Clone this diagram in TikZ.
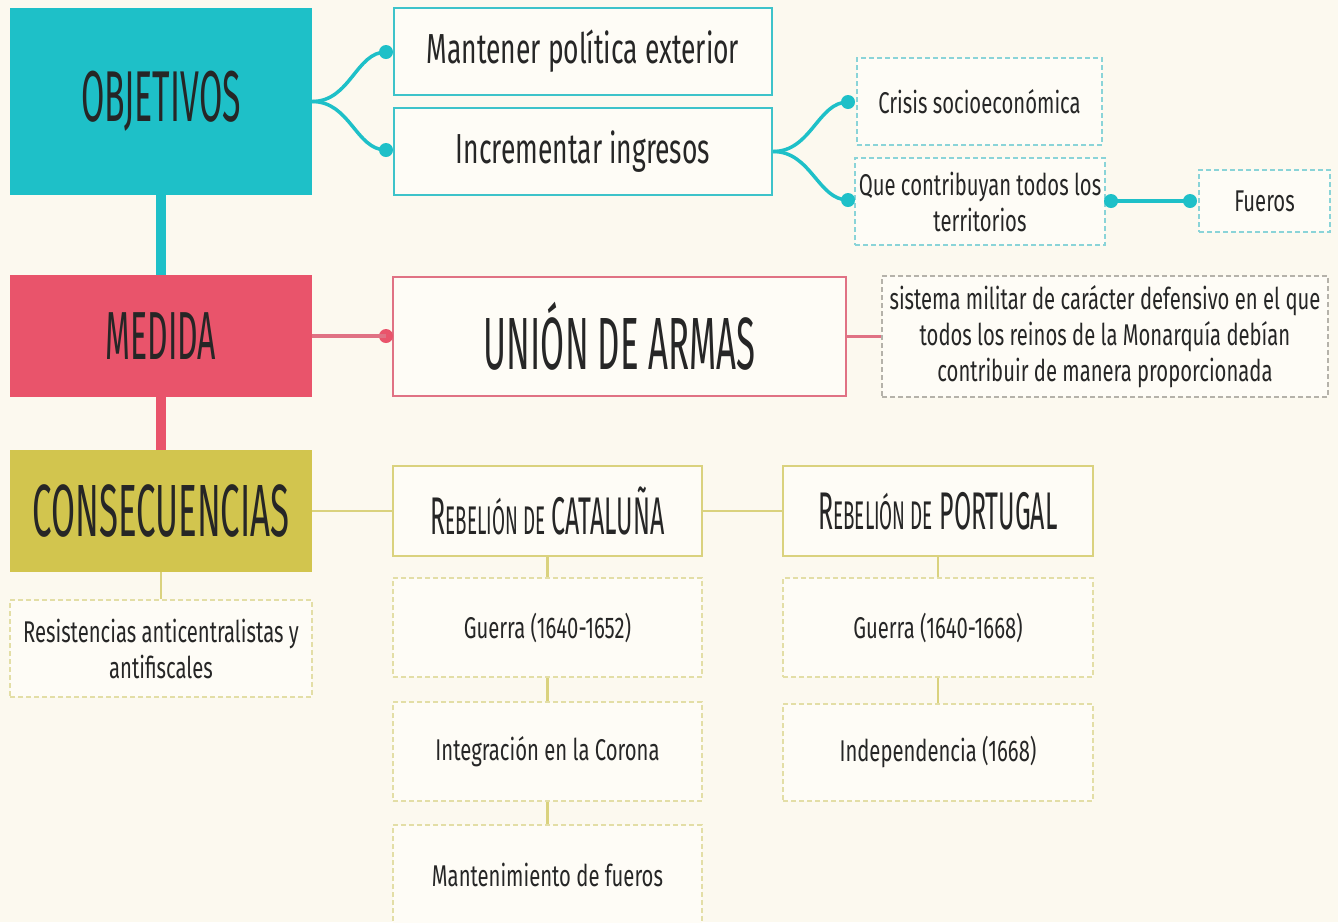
\documentclass[tikz,border=0pt]{standalone}
\usepackage{fontspec}
\setmainfont{Fira Sans}
\newfontfamily\hfont[FakeStretch=0.47]{Fira Sans}
\newfontfamily\bfont[FakeStretch=0.63]{Fira Sans}
\newfontfamily\sfont[FakeStretch=0.675]{Fira Sans}
\definecolor{bgc}{HTML}{FCF9EF}
\definecolor{boxin}{HTML}{FEFCF6}
\definecolor{tealc}{HTML}{1EC0C8}
\definecolor{teall}{HTML}{3DC3CA}
\definecolor{teald}{HTML}{8AD4D8}
\definecolor{redc}{HTML}{E9546B}
\definecolor{redl}{HTML}{E07284}
\definecolor{olivec}{HTML}{D2C54E}
\definecolor{olivel}{HTML}{DAD27E}
\definecolor{olived}{HTML}{E3DEA6}
\definecolor{grayd}{HTML}{B5B2AA}
\definecolor{txt}{HTML}{262626}
\tikzset{
  bx/.style n args={2}{rectangle, minimum width=#1, minimum height=#2, inner sep=0pt, align=center, text=txt},
  mainbox/.style={fill=#1, draw=none},
  solidbox/.style={draw=#1, line width=2.4pt, fill=boxin},
  dashbox/.style={draw=#1, line width=1.1pt, dash pattern=on 5pt off 3pt, fill=boxin},
  dotc/.style={circle, fill=#1, inner sep=0pt, minimum size=14pt},
  thick conn/.style={draw=#1, line width=10pt},
  conn/.style={draw=#1, line width=3.5pt},
  thin conn/.style={draw=#1, line width=2.4pt},
  hd/.style={font=\hfont\fontsize{72}{72}\selectfont},
  bdl/.style={font=\bfont\fontsize{42}{44}\selectfont},
  bds/.style={font=\sfont\fontsize{30}{36}\selectfont},
  reb/.style={font=\hfont\fontsize{53}{53}\selectfont},
}
\begin{document}
\begin{tikzpicture}[x=1pt,y=-1pt]
\useasboundingbox (0,0) rectangle (1338,922);
\clip (0,0) rectangle (1338,922);
\fill[bgc] (0,0) rectangle (1338,922);

% left column
\node[bx={302pt}{187pt}, mainbox=tealc, hd] (obj) at (161,101.5) {OBJETIVOS};
\node[bx={302pt}{122pt}, mainbox=redc, hd, font=\hfont\fontsize{68}{68}\selectfont] (med) at (161,336) {MEDIDA};
\node[bx={302pt}{122pt}, mainbox=olivec, hd, font=\hfont\fontsize{74}{74}\selectfont] (cons) at (161,511) {CONSECUENCIAS};
\node[bx={302pt}{97pt}, dashbox=olived, bds] (res) at (161,648.5) {Resistencias anticentralistas y\\antifiscales};

\path[thick conn=tealc] (obj.south) -- (med.north);
\path[thick conn=redc] (med.south) -- (cons.north);
\path[thin conn=olivel] (cons.south) -- (res.north);

% objetivos
\node[bx={378pt}{87pt}, solidbox=teall, bdl] (mant) at (583,51.5) {Mantener política exterior};
\node[bx={378pt}{87pt}, solidbox=teall, bdl] (incr) at (583,151.5) {Incrementar ingresos};
\node[bx={245pt}{87pt}, dashbox=teald, bds] (cris) at (979.5,101.5) {Crisis socioeconómica};
\node[bx={250pt}{87pt}, dashbox=teald, bds] (que) at (980,201.5) {Que contribuyan todos los\\territorios};
\node[bx={131pt}{62pt}, dashbox=teald, bds] (fue) at (1264.5,201) {Fueros};

\node[dotc=tealc] (d1) at (386,52) {};
\node[dotc=tealc] (d2) at (386,150) {};
\node[dotc=tealc] (d3) at (848,102) {};
\node[dotc=tealc] (d4) at (848,200) {};
\node[dotc=tealc] (d5) at (1111,201) {};
\node[dotc=tealc] (d6) at (1190,201) {};

\path[conn=tealc] (obj.east) .. controls +(38,0) and +(-30,0) .. (d1.center);
\path[conn=tealc] (obj.east) .. controls +(38,0) and +(-30,0) .. (d2.center);
\path[conn=tealc] (incr.east) .. controls +(38,0) and +(-30,0) .. (d3.center);
\path[conn=tealc] (incr.east) .. controls +(38,0) and +(-30,0) .. (d4.center);
\path[conn=tealc] (d5.center) -- (d6.center);

% medida
\node[bx={453pt}{119pt}, solidbox=redl, hd, font=\hfont\fontsize{74}{74}\selectfont] (union) at (619.5,336.5) {UNIÓN DE ARMAS};
\node[bx={446pt}{121pt}, dashbox=grayd, bds] (def) at (1105,336.5) {sistema militar de carácter defensivo en el que\\todos los reinos de la Monarquía debían\\contribuir de manera proporcionada};
\node[dotc=redc] (d7) at (386,336) {};
\path[conn=redl] (med.east) -- (d7.center);
\path[conn=redl] (union.east) -- (def.west);

% consecuencias
\node[bx={309pt}{90pt}, solidbox=olivel, reb] (cat) at (547.5,511) {R{\fontsize{40}{40}\selectfont EBELIÓN DE} CATALUÑA};
\node[bx={310pt}{90pt}, solidbox=olivel, reb] (por) at (938,511) {R{\fontsize{40}{40}\selectfont EBELIÓN DE} PORTUGAL};
\node[bx={309pt}{99pt}, dashbox=olived, bds] (g1) at (547.5,627.5) {Guerra (1640-1652)};
\node[bx={309pt}{99pt}, dashbox=olived, bds] (int) at (547.5,751.5) {Integración en la Corona};
\node[bx={309pt}{99pt}, dashbox=olived, bds] (mf) at (547.5,874.5) {Mantenimiento de fueros};
\node[bx={310pt}{99pt}, dashbox=olived, bds] (g2) at (938,627.5) {Guerra (1640-1668)};
\node[bx={310pt}{97pt}, dashbox=olived, bds] (ind) at (938,752.5) {Independencia (1668)};

\path[thin conn=olivel] (cons.east) -- (cat.west);
\path[thin conn=olivel] (cat.east) -- (por.west);
\path[thin conn=olivel] (cat.south) -- (g1.north);
\path[thin conn=olivel] (g1.south) -- (int.north);
\path[thin conn=olivel] (int.south) -- (mf.north);
\path[thin conn=olivel] (por.south) -- (g2.north);
\path[thin conn=olivel] (g2.south) -- (ind.north);
\end{tikzpicture}
\end{document}
